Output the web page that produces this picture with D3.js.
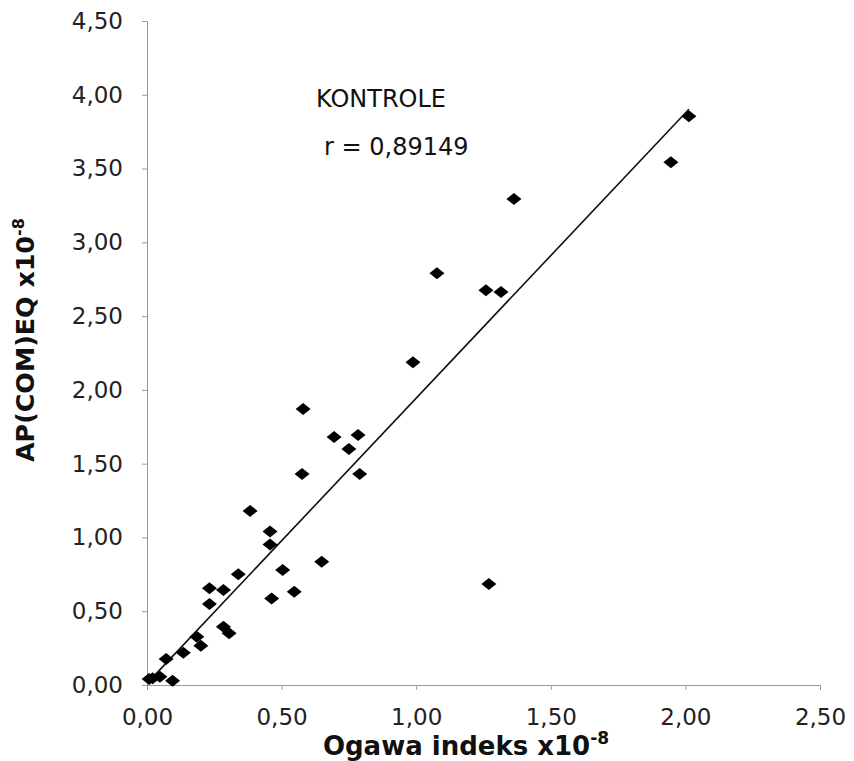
<!DOCTYPE html>
<html>
<head>
<meta charset="utf-8">
<script src="https://cdn.jsdelivr.net/npm/d3@7"></script>
<style>
  body { margin: 0; background: #fff; }
  text { font-family: "DejaVu Sans", Verdana, sans-serif; }
</style>
</head>
<body>
<div id="chart"></div>
<script>
// data
var ogawa = [2.013, 1.946, 1.363, 1.077, 1.259, 1.315, 0.988, 0.580, 0.695, 0.784,
             0.750, 0.576, 0.790, 0.383, 0.457, 0.457, 0.339, 0.649, 0.504, 0.232,
             0.284, 0.232, 0.463, 0.547, 1.270, 0.284, 0.305, 0.185, 0.200, 0.135,
             0.071, 0.021, 0.048, 0.095, 0.008]
var apcom = [3.855, 3.543, 3.293, 2.791, 2.676, 2.663, 2.188, 1.870, 1.680, 1.694,
             1.600, 1.430, 1.430, 1.180, 1.040, 0.953, 0.750, 0.835, 0.779, 0.655,
             0.644, 0.549, 0.587, 0.632, 0.684, 0.395, 0.350, 0.327, 0.266, 0.219,
             0.176, 0.045, 0.056, 0.029, 0.040]
var xTicks = [0, 0.5, 1, 1.5, 2, 2.5]
var yTicks = [0, 0.5, 1, 1.5, 2, 2.5, 3, 3.5, 4, 4.5]
// trendline
var trendSlope = 1.933
var trendIntercept = 0.011

var data = ogawa.map(function(v, i) { return {x: v, y: apcom[i]} })

var W = 854, H = 761
var svg = d3.select("#chart").append("svg")
    .attr("width", W).attr("height", H)

var x = d3.scaleLinear().domain([0, 2.5]).range([147, 820])
var y = d3.scaleLinear().domain([0, 4.5]).range([685, 21])

var fmt = function(d) { return d3.format(".2f")(d).replace(".", ",") }

// X axis
var gx = svg.append("g")
    .attr("transform", "translate(0," + y(0) + ")")
    .call(d3.axisBottom(x).tickValues(xTicks).tickFormat(fmt).tickSizeInner(5).tickSizeOuter(0).tickPadding(19))
gx.select(".domain").attr("stroke", "#999")
gx.selectAll(".tick line").attr("stroke", "#999")
gx.selectAll(".tick text").attr("font-size", 23).attr("fill", "#222")
    .style("font-family", "DejaVu Sans, sans-serif")

// Y axis
var gy = svg.append("g")
    .attr("transform", "translate(" + x(0) + ",0)")
    .call(d3.axisLeft(y).tickValues(yTicks).tickFormat(fmt).tickSizeInner(5).tickSizeOuter(0).tickPadding(19))
gy.select(".domain").attr("stroke", "#999")
gy.selectAll(".tick line").attr("stroke", "#999")
gy.selectAll(".tick text").attr("font-size", 23).attr("fill", "#222")
    .style("font-family", "DejaVu Sans, sans-serif")

// trend line
var xmin = d3.min(ogawa), xmax = d3.max(ogawa)
svg.append("line")
    .attr("x1", x(xmin)).attr("y1", y(trendSlope * xmin + trendIntercept))
    .attr("x2", x(xmax)).attr("y2", y(trendSlope * xmax + trendIntercept))
    .attr("stroke", "#111").attr("stroke-width", 1.6)

// diamonds
svg.append("g").selectAll("path")
    .data(data)
    .enter()
    .append("path")
    .attr("d", "M-7.5,0L0,-6L7.5,0L0,6Z")
    .attr("transform", function(d) { return "translate(" + x(d.x) + "," + y(d.y) + ")" })
    .attr("fill", "#000")

// annotations
svg.append("text").attr("x", 316).attr("y", 107)
    .attr("font-size", 24).attr("fill", "#111").text("KONTROLE")
svg.append("text").attr("x", 324).attr("y", 155)
    .attr("font-size", 24).attr("fill", "#111").text("r = 0,89149")

// axis titles
var xt = svg.append("text")
    .attr("x", 466).attr("y", 755)
    .attr("text-anchor", "middle")
    .attr("font-size", 26).attr("font-weight", "bold").attr("fill", "#111")
xt.append("tspan").text("Ogawa indeks x10")
xt.append("tspan").attr("dy", -11).attr("font-size", 17).text("-8")

var yt = svg.append("text")
    .attr("transform", "translate(34,462) rotate(-90)")
    .attr("font-size", 25).attr("font-weight", "bold").attr("fill", "#111")
yt.append("tspan").attr("textLength", 226).attr("lengthAdjust", "spacingAndGlyphs")
    .text("AP(COM)EQ x10")
yt.append("tspan").attr("dy", -10).attr("font-size", 16).text("-8")
</script>
</body>
</html>
